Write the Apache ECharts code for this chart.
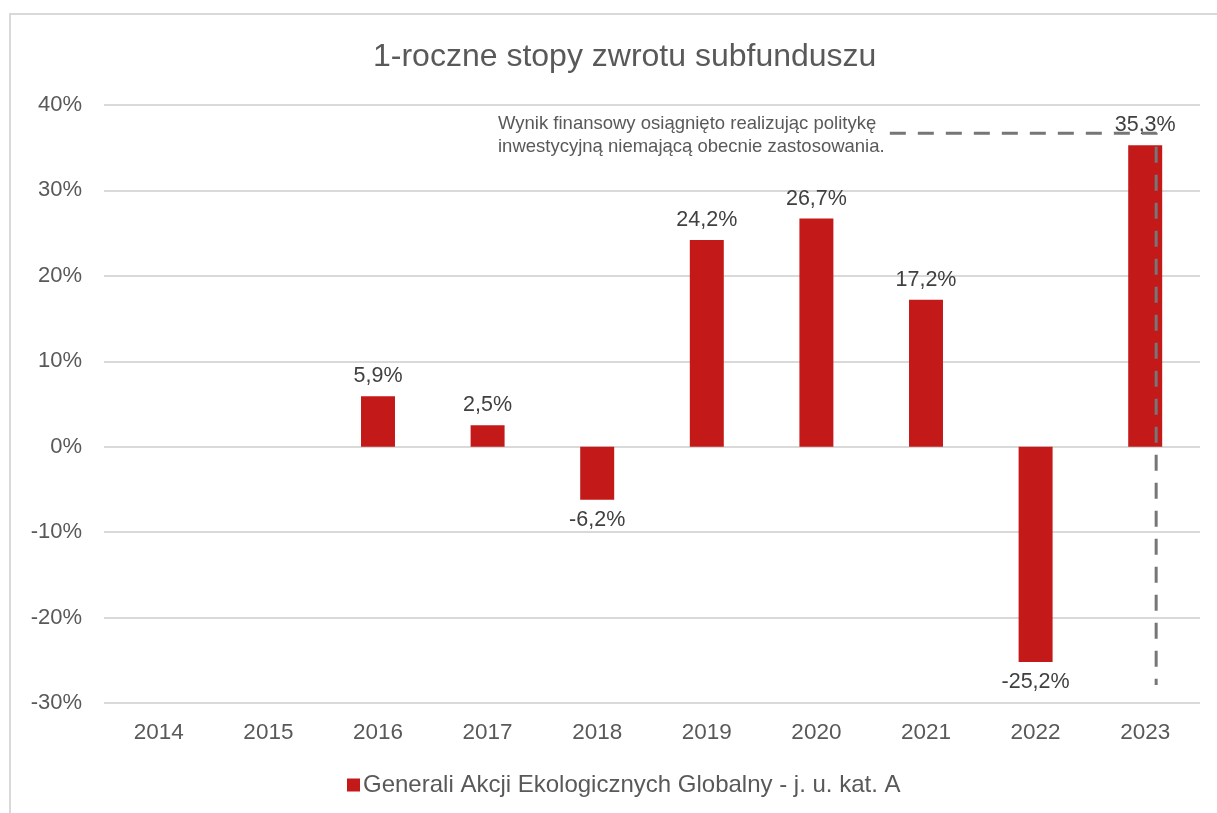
<!DOCTYPE html>
<html>
<head>
<meta charset="utf-8">
<script src="https://cdn.jsdelivr.net/npm/echarts@6/dist/echarts.min.js"></script>
<style>
    html, body { margin: 0; padding: 0; background: #fff; }
    #chart { width: 1217px; height: 813px; }
</style>
</head>
<body>
<div id="chart"></div>
<script>
// dane
const years = ['2014', '2015', '2016', '2017', '2018', '2019', '2020', '2021', '2022', '2023'];
const returns = [null, null, 5.9, 2.5, -6.2, 24.2, 26.7, 17.2, -25.2, 35.3];
const yTicks = { min: -30, max: 40, interval: 10 };
const seriesName = 'Generali Akcji Ekologicznych Globalny - j. u. kat. A';
const noteText = 'Wynik finansowy osiągnięto realizując politykę\ninwestycyjną niemającą obecnie zastosowania.';
// linia przerywana (pozycja w jednostkach kategorii 0..10 i w %)
const noteLine = [[7.17, 36.7], [9.6, 36.7], [9.6, -27.9]];

const font = '"Liberation Sans", Arial, sans-serif';

const chart = echarts.init(document.getElementById('chart'));

const barData = returns.map(v => ({
    value: v,
    label: { position: v !== null && v < 0 ? 'bottom' : 'top' }
}));

const option = {
    animation: false,
    textStyle: { fontFamily: font },
    graphic: [{
        type: 'rect',
        silent: true,
        shape: { x: 10, y: 14, width: 1400, height: 1000 },
        style: { fill: 'none', stroke: '#d9d9d9', lineWidth: 2 }
    }],
    title: [{
        text: '1-roczne stopy zwrotu subfunduszu',
        left: 368,
        top: 36,
        textStyle: { fontFamily: font, fontSize: 32, fontWeight: 'normal', color: '#595959' }
    }, {
        text: noteText,
        left: 493,
        top: 107,
        textStyle: { fontFamily: font, fontSize: 18.5, fontWeight: 'normal', color: '#595959', lineHeight: 23 }
    }],
    legend: {
        left: 342,
        top: 768,
        itemWidth: 13,
        itemHeight: 13,
        itemGap: 6,
        icon: 'rect',
        textStyle: { fontFamily: font, fontSize: 24, color: '#595959', padding: [0, 0, 0, -2] },
        data: [seriesName]
    },
    grid: { left: 104, right: 17, top: 105, bottom: 110, containLabel: false },
    xAxis: [{
        type: 'category',
        data: years,
        position: 'bottom',
        axisLine: { show: false },
        axisTick: { show: false },
        axisLabel: { fontFamily: font, fontSize: 22.5, color: '#595959', margin: 18 }
    }, {
        type: 'value',
        min: 0,
        max: 10,
        show: false
    }],
    yAxis: {
        type: 'value',
        min: yTicks.min,
        max: yTicks.max,
        interval: yTicks.interval,
        axisLine: { show: false },
        axisTick: { show: false },
        splitLine: { lineStyle: { color: '#d9d9d9', width: 2 } },
        axisLabel: {
            fontFamily: font, fontSize: 22, color: '#595959', margin: 22,
            formatter: '{value}%'
        }
    },
    series: [{
        name: seriesName,
        type: 'bar',
        xAxisIndex: 0,
        barWidth: '31%',
        itemStyle: { color: '#c41919' },
        label: {
            show: true,
            fontFamily: font,
            fontSize: 21.5,
            color: '#404040',
            distance: 9,
            formatter: p => p.value === null ? '' : String(p.value).replace('.', ',') + '%'
        },
        data: barData,
        z: 2
    }, {
        name: 'note',
        type: 'line',
        xAxisIndex: 1,
        symbol: 'none',
        silent: true,
        lineStyle: { color: '#767676', width: 3, type: [16, 12] },
        data: noteLine,
        z: 3
    }]
};

chart.setOption(option);
</script>
</body>
</html>
